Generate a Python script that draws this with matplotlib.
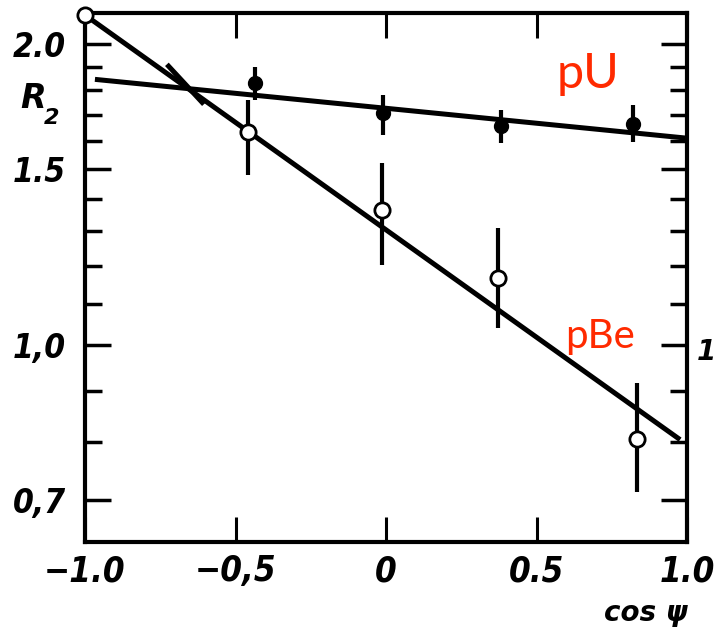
import numpy as np
import matplotlib.pyplot as plt
from matplotlib.ticker import FixedLocator, FixedFormatter, NullFormatter

# pU (filled circles)
pu_x = [-0.435, -0.01, 0.382, 0.821]
pu_y = [1.828, 1.706, 1.656, 1.663]
pu_lo = [1.758, 1.622, 1.592, 1.596]
pu_hi = [1.897, 1.778, 1.718, 1.738]
pu_line_x = [-0.967, 1.0]
pu_line_y = [1.845, 1.611]

# pBe (open circles)
pbe_x = [-1.0, -0.458, -0.013, 0.372, 0.834]
pbe_y = [2.14, 1.633, 1.365, 1.167, 0.805]
pbe_lo = [2.14, 1.48, 1.202, 1.040, 0.713]
pbe_hi = [2.14, 1.76, 1.521, 1.309, 0.916]
pbe_line_x = [-1.0, 0.977]
pbe_line_y = [2.14, 0.804]

# stray dash near the crossing
dash_x = [-0.728, -0.605]
dash_y = [1.910, 1.742]

x_ticks = [-1.0, -0.5, 0.0, 0.5, 1.0]
x_labels = ['\u22121.0', '\u22120,5', '0', '0.5', '1.0']
y_ticks = [0.7, 1.0, 1.5, 2.0]
y_labels = ['0,7', '1,0', '1.5', '2.0']
y_minor = [0.8, 0.9, 1.1, 1.2, 1.3, 1.4, 1.6, 1.7, 1.8, 1.9]

W, H = 717, 640
fig = plt.figure(figsize=(W / 100, H / 100), dpi=100)
ax = fig.add_axes([85 / W, 1 - 542 / H, 602 / W, 529 / H])

ax.plot(pu_line_x, pu_line_y, color='black', lw=3.6, solid_capstyle='butt', zorder=2)
ax.plot(pbe_line_x, pbe_line_y, color='black', lw=3.6, solid_capstyle='butt', zorder=2)
ax.plot(dash_x, dash_y, color='black', lw=3.6, solid_capstyle='butt', zorder=2)

pu_err = [np.array(pu_y) - np.array(pu_lo), np.array(pu_hi) - np.array(pu_y)]
ax.errorbar(pu_x, pu_y, yerr=pu_err, fmt='o', color='black', ms=10,
            elinewidth=3, capsize=0, zorder=3)

pbe_err = [np.array(pbe_y) - np.array(pbe_lo), np.array(pbe_hi) - np.array(pbe_y)]
ax.errorbar(pbe_x, pbe_y, yerr=pbe_err, fmt='o', color='black', ms=11,
            mfc='white', mec='black', mew=2, elinewidth=3, capsize=0,
            zorder=4, clip_on=False)

ax.set_yscale('log')
ax.set_xlim(-1.0, 1.0)
ax.set_ylim(0.635, 2.15)

ax.xaxis.set_major_locator(FixedLocator(x_ticks))
ax.xaxis.set_major_formatter(FixedFormatter(x_labels))
ax.xaxis.set_minor_locator(FixedLocator([]))
ax.yaxis.set_major_locator(FixedLocator(y_ticks))
ax.yaxis.set_major_formatter(FixedFormatter(y_labels))
ax.yaxis.set_minor_locator(FixedLocator(y_minor))
ax.yaxis.set_minor_formatter(NullFormatter())

ax.tick_params(axis='x', which='major', direction='in', top=True, length=18,
               width=2.2, pad=9, labelsize=25)
ax.tick_params(axis='y', which='major', direction='in', right=True, length=19,
               width=2.5, pad=14, labelsize=24)
ax.tick_params(axis='y', which='minor', direction='in', right=True, length=12,
               width=2.5)
for lab in ax.get_xticklabels() + ax.get_yticklabels():
    lab.set_fontweight('bold')
    lab.set_fontstyle('italic')
    lab.set_fontstretch('condensed')

for sp in ax.spines.values():
    sp.set_linewidth(3)

fig.text(20 / W, 1 - 99 / H, 'R', fontsize=24, style='italic', weight='bold',
         ha='left', va='center')
fig.text(44 / W, 1 - 118 / H, '2', fontsize=16, style='italic', weight='bold',
         ha='left', va='center')
fig.text(646 / W, 1 - 613 / H, 'cos \u03c8', fontsize=20, weight='bold',
         style='italic', ha='center', va='center')
fig.text(706 / W, 1 - 352 / H, '1', fontsize=20, weight='bold', style='italic',
         ha='center', va='center')

fig.text(557 / W, 1 - 88 / H, 'pU', fontsize=35, color='#ff2a00',
         family=['Lato', 'DejaVu Sans'], ha='left', va='baseline')
fig.text(565 / W, 1 - 348 / H, 'pBe', fontsize=29, color='#ff2a00',
         family=['Lato', 'DejaVu Sans'], ha='left', va='baseline')

fig.savefig('out.png', dpi=100)
